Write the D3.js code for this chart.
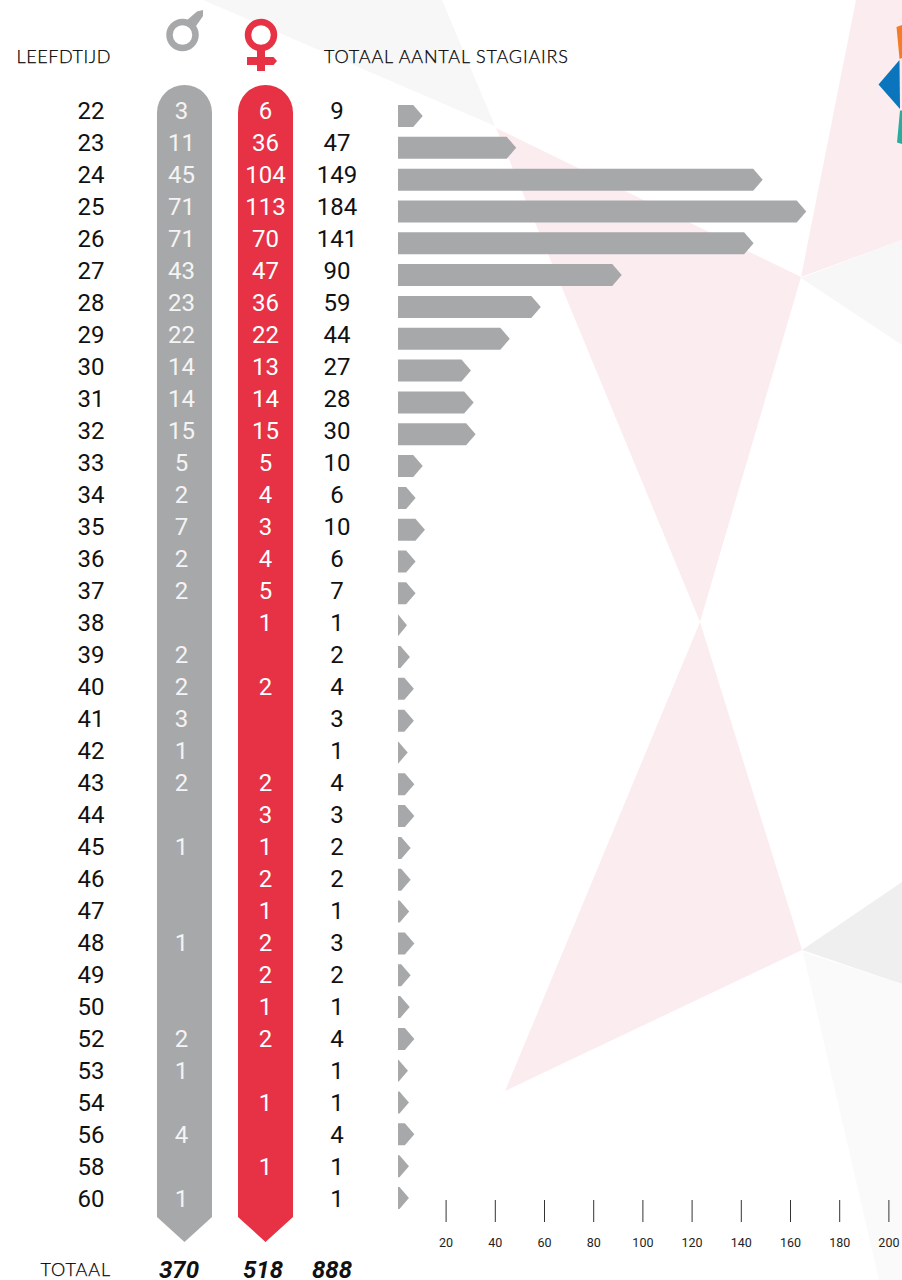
<!DOCTYPE html>
<html>
<head>
<meta charset="utf-8">
<script src="https://cdn.jsdelivr.net/npm/d3@7"></script>
<style>
  html, body { margin: 0; padding: 0; background: #fff; }
  svg { display: block; }
  text { font-family: Roboto, sans-serif; }
  .head { font-family: Lato, sans-serif; font-weight: 300; font-size: 18px; fill: #000; stroke: #000; stroke-width: 0.25px; }
  .axis text { font-family: Roboto, sans-serif; font-size: 12.5px; fill: #222; }
  .axis line { stroke: #333; }
</style>
</head>
<body>
<div id="chart"></div>
<script>
const ages = [22, 23, 24, 25, 26, 27, 28, 29, 30, 31, 32, 33, 34, 35, 36, 37, 38, 39, 40, 41, 42, 43, 44, 45, 46, 47, 48, 49, 50, 52, 53, 54, 56, 58, 60];
const male = [3, 11, 45, 71, 71, 43, 23, 22, 14, 14, 15, 5, 2, 7, 2, 2, null, 2, 2, 3, 1, 2, null, 1, null, null, 1, null, null, 2, 1, null, 4, null, 1];
const female = [6, 36, 104, 113, 70, 47, 36, 22, 13, 14, 15, 5, 4, 3, 4, 5, 1, null, 2, null, null, 2, 3, 1, 2, 1, 2, 2, 1, 2, null, 1, null, 1, null];
const total = [9, 47, 149, 184, 141, 90, 59, 44, 27, 28, 30, 10, 6, 10, 6, 7, 1, 2, 4, 3, 1, 4, 3, 2, 2, 1, 3, 2, 1, 4, 1, 1, 4, 1, 1];
// bar ends as read against the axis, the drawn bars do not follow the totals exactly (184 stops near 167)
const barEnd = [10.7, 48.7, 148.9, 166.6, 145.2, 91.6, 58.7, 46.1, 30.3, 31.4, 32.2, 10.7, 7.8, 11.6, 7.8, 7.8, 4.3, 5.5, 7.1, 7.1, 4.6, 7.3, 7.3, 5.8, 5.8, 5.2, 7.3, 5.8, 5.4, 7.3, 4.7, 5.1, 7.3, 5.1, 5.1];
const axisTicks = [20, 40, 60, 80, 100, 120, 140, 160, 180, 200];
const totals = { male: 370, female: 518, all: 888 };

// decoration behind the chart
const backdrop = [
  { fill: "#fbecef", points: [[496, 128], [801, 277], [700, 622]] },
  { fill: "#fbecef", points: [[700, 622], [802, 950], [505, 1091]] },
  { fill: "#fbecef", points: [[801, 277], [856, 0], [902, 0], [902, 240]] },
  { fill: "#f7f7f7", points: [[203, 0], [442, 0], [495, 126]] },
  { fill: "#f7f7f7", points: [[801, 278], [902, 240], [902, 345]] },
  { fill: "#efefef", points: [[802, 950], [902, 882], [902, 984]] },
  { fill: "#fafafa", points: [[803, 952], [902, 984], [902, 1280], [879, 1280]] },
  { fill: "#f47b2a", points: [[896.5, 27], [902, 25], [902, 58], [899.5, 59]] },
  { fill: "#0a75bd", points: [[878.5, 84.5], [899.5, 60], [900, 109]] },
  { fill: "#2aac9c", points: [[900, 110.5], [902, 110.5], [902, 144], [897, 142.5]] },
];

const grey = "#a7a8aa";
const red = "#e63244";
const width = 902;
const height = 1280;

const svg = d3.select("#chart").append("svg").attr("width", width).attr("height", height);

svg
  .append("g")
  .selectAll("polygon")
  .data(backdrop)
  .enter()
  .append("polygon")
  .attr("points", (d) => d.points.join(" "))
  .attr("fill", (d) => d.fill);

const x = d3.scaleLinear().domain([0, 200]).range([396.4, 888.4]);
const yLabel = d3.scalePoint().domain(ages).range([111, 1199]);
const yBar = d3.scalePoint().domain(ages).range([116, 1198]);

// the two long columns
const columns = [
  { left: 157, right: 212, color: grey },
  { left: 238, right: 293, color: red },
];
svg
  .append("g")
  .selectAll("path")
  .data(columns)
  .enter()
  .append("path")
  .attr("fill", (d) => d.color)
  .attr("d", (d) => {
    const r = (d.right - d.left) / 2;
    return `M${d.left},1217 V${85 + r} A${r},${r} 0 0 1 ${d.right},${85 + r} V1217 L${d.left + r},1242 Z`;
  });

function numberColumn(values, cx, fill) {
  svg
    .append("g")
    .selectAll("text")
    .data(values.map((value, i) => ({ value, age: ages[i] })).filter((d) => d.value !== null))
    .enter()
    .append("text")
    .attr("x", cx)
    .attr("y", (d) => yLabel(d.age) + 8.4)
    .attr("text-anchor", "middle")
    .attr("font-size", 24)
    .attr("fill", fill)
    .text((d) => d.value);
}

numberColumn(ages, 91, "#111");
numberColumn(male, 181.5, "#f4f4f4");
numberColumn(female, 265.5, "#fff");
numberColumn(total, 337, "#111");

// arrow shaped bars
const barLeft = 398;
const barHeight = 22;
const headDepth = 9.5;
svg
  .append("g")
  .selectAll("path")
  .data(barEnd.map((value, i) => ({ value, age: ages[i] })))
  .enter()
  .append("path")
  .attr("fill", grey)
  .attr("d", (d) => {
    const tip = x(d.value);
    const neck = Math.max(barLeft, tip - headDepth);
    const top = yBar(d.age) - barHeight / 2;
    const bottom = top + barHeight;
    return `M${barLeft},${top} H${neck} L${tip},${yBar(d.age)} L${neck},${bottom} H${barLeft} Z`;
  });

const axis = svg
  .append("g")
  .attr("class", "axis")
  .attr("transform", "translate(0,1200)")
  .call(d3.axisBottom(x).tickValues(axisTicks).tickSize(22).tickPadding(16.4));
axis.select(".domain").remove();

// headers
svg.append("text").attr("class", "head").attr("x", 16.5).attr("y", 63).attr("textLength", 94).text("LEEFDTIJD");
svg.append("text").attr("class", "head").attr("x", 324).attr("y", 63).attr("textLength", 244).text("TOTAAL AANTAL STAGIAIRS");
svg.append("text").attr("class", "head").attr("x", 40.5).attr("y", 1276).attr("textLength", 69.5).text("TOTAAL");

// totals row
const totalRow = [
  { value: totals.male, cx: 179 },
  { value: totals.female, cx: 263 },
  { value: totals.all, cx: 332 },
];
svg
  .append("g")
  .selectAll("text")
  .data(totalRow)
  .enter()
  .append("text")
  .attr("x", (d) => d.cx)
  .attr("y", 1277.5)
  .attr("text-anchor", "middle")
  .attr("font-size", 24)
  .attr("font-weight", 700)
  .attr("font-style", "italic")
  .attr("fill", "#111")
  .text((d) => d.value);

// gender symbols
const maleIcon = svg.append("g");
maleIcon.append("circle").attr("cx", 182.5).attr("cy", 35).attr("r", 13).attr("fill", "none").attr("stroke", grey).attr("stroke-width", 6.5);
maleIcon.append("path").attr("fill", grey).attr("d", "M186,21 L197,11.5 L203,10 L203,16 L194,29 Z");

const femaleIcon = svg.append("g");
femaleIcon.append("circle").attr("cx", 261).attr("cy", 35).attr("r", 13).attr("fill", "none").attr("stroke", red).attr("stroke-width", 6.5);
femaleIcon.append("path").attr("fill", red).attr("d", "M257,50 H265 V57 H273.5 L277,61 L273.5,65 H265 V71 H257 V65 H247 V57 H257 Z");
</script>
</body>
</html>
